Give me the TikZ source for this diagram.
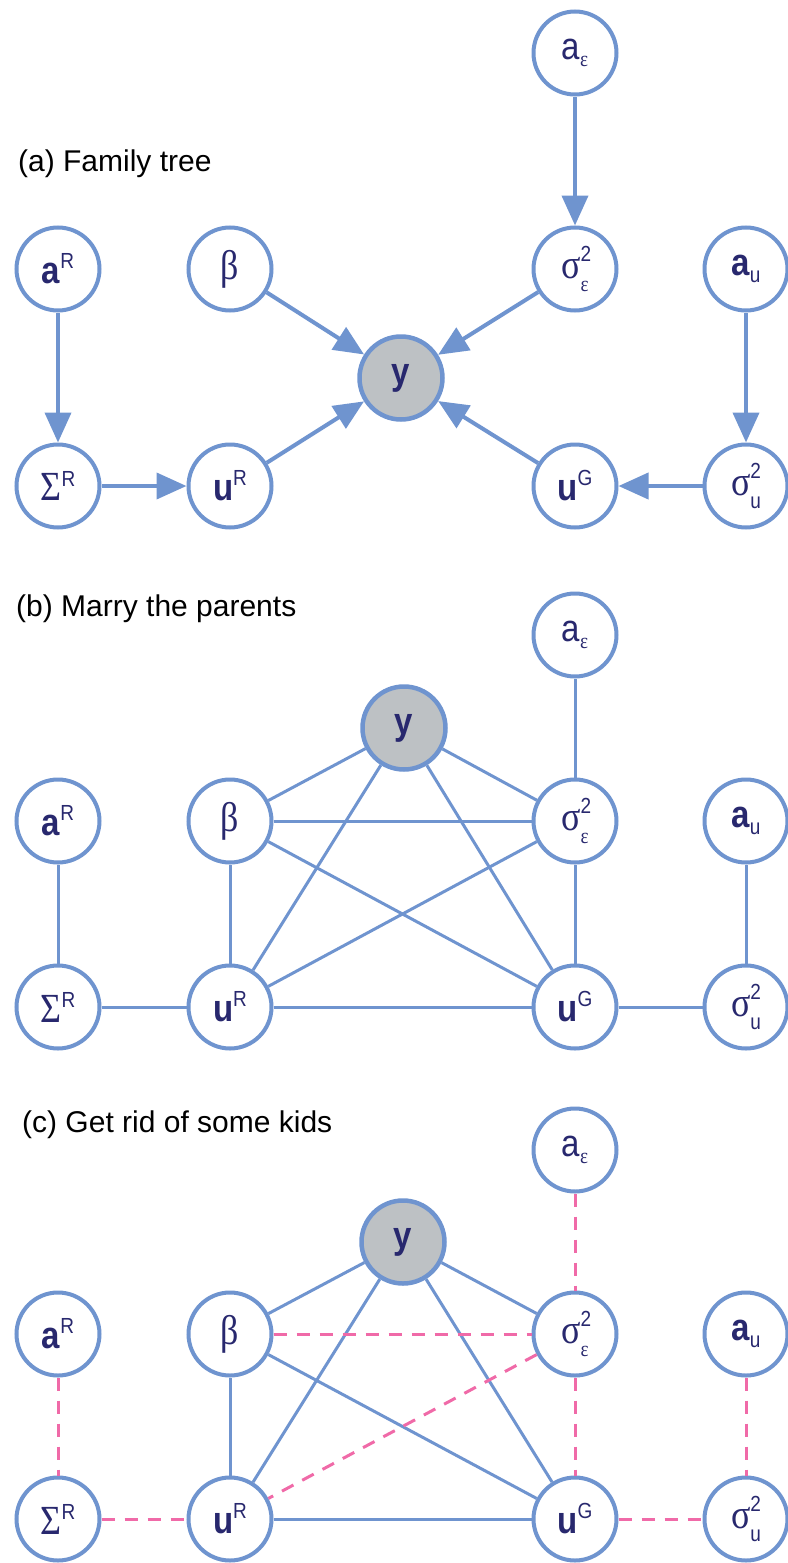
\documentclass[tikz,border=0pt]{standalone}
\usepackage{fontspec}
\usepackage{graphicx}
\setmainfont{Liberation Sans}
\newfontfamily\grk{Liberation Serif}
\usetikzlibrary{arrows.meta}
\definecolor{edgec}{HTML}{6F94CF}
\definecolor{inkc}{HTML}{28286E}
\definecolor{obsc}{HTML}{BDC1C4}
\definecolor{pinkc}{HTML}{F06AA8}
\newcommand{\nodemain}{\fontsize{33}{33}\selectfont}
\newcommand{\nodegrk}{\fontsize{36}{36}\selectfont\grk}
\newcommand{\nodescr}{\fontsize{19}{19}\selectfont}
\newcommand{\vst}[1]{\scalebox{1}[1.15]{#1}}
\newcommand{\supx}[1]{\raisebox{13pt}{\nodescr #1}}
\newcommand{\subx}[1]{\raisebox{-6pt}{\nodescr #1}}
\newcommand{\supsubx}[2]{\rlap{\raisebox{15pt}{\nodescr #1}}\raisebox{-11pt}{\nodescr #2}}
\tikzset{
  var/.style={circle, draw=edgec, line width=4pt, fill=white, minimum size=83pt,
    inner sep=0pt, text=inkc, font=\nodemain},
  obs/.style={var, fill=obsc, line width=4.5pt},
  arr/.style={draw=edgec, line width=4pt, -{Triangle[length=30pt,width=26pt]}},
  ln/.style={draw=edgec, line width=3pt},
  pk/.style={draw=pinkc, line width=3pt, dash pattern=on 13pt off 10pt},
  title/.style={anchor=base west, font=\fontsize{30}{30}\selectfont, inner sep=0pt}
}
% #1 prefix, #2 ae y, #3 y-node x, #4 y-node y, #5 row2 y, #6 row3 y
\newcommand{\makepanel}[6]{%
  \node[var] (#1ae) at (575,#2) {\vst{a\subx{\grk ε}}};
  \node[obs] (#1y) at (#3,#4) {\vst{\bfseries y}};
  \node[var] (#1aR) at (58,#5) {\vst{{\bfseries a}\supx{R}}};
  \node[var] (#1beta) at (230,#5) {\vst{\nodegrk β}};
  \node[var] (#1sige) at (575,#5) {\vst{{\nodegrk σ}\supsubx{2}{\grk ε}}};
  \node[var] (#1au) at (746,#5) {\vst{{\bfseries a}\subx{u}}};
  \node[var] (#1SigR) at (58,#6) {\vst{{\nodegrk Σ}\supx{R}}};
  \node[var] (#1uR) at (230,#6) {\vst{{\bfseries u}\supx{R}}};
  \node[var] (#1uG) at (575,#6) {\vst{{\bfseries u}\supx{G}}};
  \node[var] (#1sigu) at (746,#6) {\vst{{\nodegrk σ}\supsubx{2}{u}}};
}
\begin{document}
\begin{tikzpicture}[x=1pt,y=-1pt]
\useasboundingbox (0,0) rectangle (787,1563);
% panel (a)
\node[title] (ta) at (18,171) {(a) Family tree};
\makepanel{a}{53}{401}{378}{269}{486}
\draw[arr] (aae) -- (asige);
\draw[arr] (aaR) -- (aSigR);
\draw[arr] (aSigR) -- (auR);
\draw[arr] (abeta) -- (ay);
\draw[arr] (asige) -- (ay);
\draw[arr] (auR) -- (ay);
\draw[arr] (auG) -- (ay);
\draw[arr] (aau) -- (asigu);
\draw[arr] (asigu) -- (auG);
% panel (b)
\node[title] (tb) at (16,616) {(b) Marry the parents};
\makepanel{b}{635}{404}{728}{821}{1007}
\draw[ln] (bae) -- (bsige);
\draw[ln] (by) -- (bbeta);
\draw[ln] (by) -- (bsige);
\draw[ln] (by) -- (buR);
\draw[ln] (by) -- (buG);
\draw[ln] (bbeta) -- (bsige);
\draw[ln] (bbeta) -- (buR);
\draw[ln] (bbeta) -- (buG);
\draw[ln] (bsige) -- (buR);
\draw[ln] (bsige) -- (buG);
\draw[ln] (baR) -- (bSigR);
\draw[ln] (bSigR) -- (buR);
\draw[ln] (buR) -- (buG);
\draw[ln] (buG) -- (bsigu);
\draw[ln] (bau) -- (bsigu);
% panel (c)
\node[title] (tc) at (22,1132) {(c) Get rid of some kids};
\makepanel{c}{1150}{403}{1242}{1334}{1519}
\draw[ln] (cy) -- (cbeta);
\draw[ln] (cy) -- (csige);
\draw[ln] (cy) -- (cuR);
\draw[ln] (cy) -- (cuG);
\draw[ln] (cbeta) -- (cuR);
\draw[ln] (cbeta) -- (cuG);
\draw[ln] (cuR) -- (cuG);
\draw[pk] (cae) -- (csige);
\draw[pk] (cbeta) -- (csige);
\draw[pk] (csige) -- (cuR);
\draw[pk] (csige) -- (cuG);
\draw[pk] (caR) -- (cSigR);
\draw[pk] (cSigR) -- (cuR);
\draw[pk] (cuG) -- (csigu);
\draw[pk] (cau) -- (csigu);
\end{tikzpicture}
\end{document}
